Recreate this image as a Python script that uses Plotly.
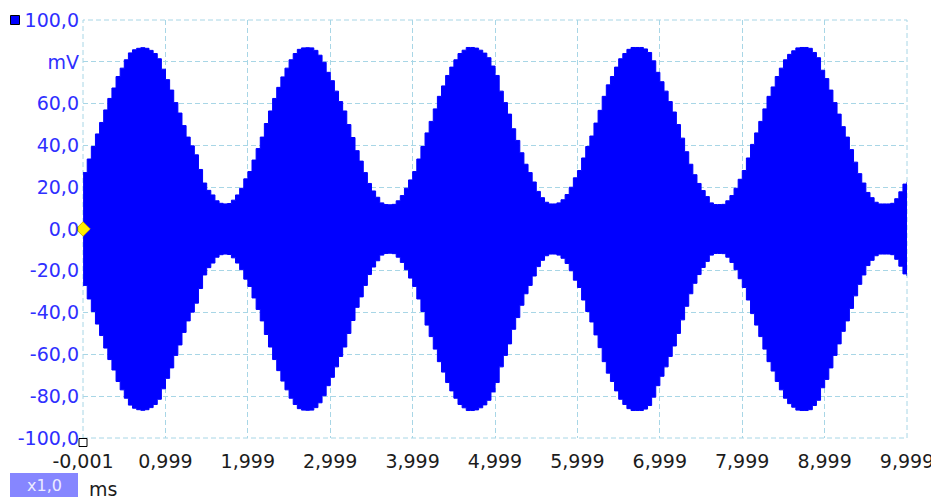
import plotly.graph_objects as go

# Sample times (ms) of the envelope readout, 0.05 ms per step, last sample at the screen edge
time_ms = [round(i * 0.05, 2) for i in range(200)] + [9.999]

# Peak amplitude (mV) of the AM waveform per 0.05 ms column
peak_mv = [
    27.0, 33.5, 39.5, 45.5, 51.0, 57.0, 62.5, 67.5, 73.0, 77.0,
    81.0, 84.3, 85.8, 86.5, 86.8, 86.5, 85.5, 84.0, 81.5, 76.5,
    71.5, 66.5, 60.5, 55.5, 49.5, 44.0, 39.8, 35.5, 28.5, 22.0,
    18.5, 16.3, 13.5, 12.3, 12.0, 12.2, 13.8, 16.3, 19.5, 24.0,
    27.5, 33.0, 38.5, 44.0, 50.5, 56.5, 62.5, 67.8, 72.8, 77.0,
    81.0, 84.0, 86.0, 86.7, 86.8, 86.7, 85.5, 83.2, 79.8, 75.0,
    71.0, 66.0, 61.0, 56.5, 50.0, 43.8, 37.5, 32.5, 27.0, 21.8,
    18.2, 15.2, 12.5, 11.7, 11.6, 11.8, 13.5, 16.0, 19.5, 23.5,
    27.5, 33.5, 39.5, 46.0, 51.5, 57.5, 63.5, 68.5, 73.5, 77.5,
    81.0, 84.0, 85.6, 86.9, 86.9, 86.6, 85.6, 84.2, 82.0, 78.0,
    73.5, 66.0, 60.5, 55.0, 48.0, 42.4, 36.5, 31.0, 27.0, 22.5,
    18.0, 15.0, 12.8, 12.0, 12.0, 12.5, 14.0, 16.5, 20.0, 24.5,
    28.0, 34.0, 39.5, 44.5, 50.7, 56.8, 63.5, 69.0, 73.0, 77.5,
    81.5, 84.0, 86.0, 86.9, 86.9, 86.9, 86.2, 84.5, 80.5, 75.0,
    70.5, 66.0, 61.0, 56.0, 50.0, 43.5, 37.0, 31.0, 26.0, 21.8,
    18.4, 15.5, 12.5, 11.7, 11.7, 11.8, 13.5, 16.0, 19.5, 23.8,
    28.0, 34.0, 40.5, 46.0, 51.5, 57.5, 63.5, 68.0, 73.0, 77.0,
    81.0, 83.6, 85.3, 86.7, 86.9, 86.9, 86.5, 84.5, 82.0, 76.0,
    72.0, 66.5, 60.5, 55.0, 49.0, 44.0, 38.0, 32.0, 26.5, 22.0,
    17.5, 15.0, 12.8, 12.0, 12.0, 12.0, 12.3, 14.5, 17.8, 21.5,
    22.5,
]

x_ticks = [-0.001, 0.999, 1.999, 2.999, 3.999, 4.999, 5.999, 6.999, 7.999, 8.999, 9.999]
x_tick_text = ["-0,001", "0,999", "1,999", "2,999", "3,999", "4,999",
               "5,999", "6,999", "7,999", "8,999", "9,999"]
y_ticks = [-100, -80, -60, -40, -20, 0, 20, 40, 60, 80, 100]
y_tick_text = ["-100,0", "-80,0", "-60,0", "-40,0", "-20,0", "0,0",
               "20,0", "40,0", "60,0", "mV", "100,0"]

trigger_time = [-0.001]
trigger_level = [0.0]

FONT = "DejaVu Sans"
TRACE_BLUE = "#0000ff"
GRID = "#a8d6e6"
GRID_DASH = "5px,3px"

W, H = 931, 499
ML, MR, MT, MB = 83, 24, 20, 61
PW, PH = W - ML - MR, H - MT - MB


def px(xp):
    return (xp - ML) / PW


def py(yp):
    return (MT + PH - yp) / PH


fig = go.Figure()
fig.add_trace(go.Scatter(
    x=time_ms, y=peak_mv, mode="lines", line=dict(color=TRACE_BLUE, width=1, shape="hv"),
    hoverinfo="skip", showlegend=False,
))
fig.add_trace(go.Scatter(
    x=time_ms, y=[-v for v in peak_mv], mode="lines",
    line=dict(color=TRACE_BLUE, width=1, shape="hv"),
    fill="tonexty", fillcolor=TRACE_BLUE, hoverinfo="skip", showlegend=False,
))
fig.add_trace(go.Scatter(
    x=trigger_time, y=trigger_level, mode="markers", cliponaxis=False,
    marker=dict(symbol="diamond", size=11, color="#ffee00", line=dict(color="#d8b400", width=1)),
    hoverinfo="skip", showlegend=False,
))

fig.update_layout(
    template="none",
    width=W, height=H,
    margin=dict(l=ML, r=MR, t=MT, b=MB, autoexpand=False),
    paper_bgcolor="white", plot_bgcolor="white",
    font=dict(family=FONT, size=19),
    showlegend=False,
)
fig.update_xaxes(
    range=[-0.0011, 9.9991], tickmode="array", tickvals=x_ticks, ticktext=x_tick_text,
    showgrid=True, gridcolor=GRID, gridwidth=1, griddash=GRID_DASH,
    zeroline=False, showline=False, ticks="", automargin=False, ticklabelstandoff=10,
    ticklabeloverflow="allow",
    tickfont=dict(family=FONT, size=19, color="#1c1c1c"),
)
fig.update_yaxes(
    range=[-100.05, 100.05], tickmode="array", tickvals=y_ticks, ticktext=y_tick_text,
    showgrid=True, gridcolor=GRID, gridwidth=1, griddash=GRID_DASH,
    zeroline=False, showline=False, ticks="", automargin=False, ticklabelstandoff=3,
    ticklabeloverflow="allow",
    tickfont=dict(family=FONT, size=19, color="#2f2fff"),
)

# Dashed frame around the graticule
fig.add_shape(type="rect", xref="paper", yref="paper", x0=0, x1=1, y0=0, y1=1,
              layer="below", line=dict(color=GRID, width=1, dash=GRID_DASH))

# Channel colour swatch, zero-time marker and the zoom badge
fig.add_shape(type="rect", xref="paper", yref="paper",
              x0=px(10.5), x1=px(19.5), y0=py(24.5), y1=py(15.5),
              fillcolor=TRACE_BLUE, line=dict(color="black", width=1))
fig.add_shape(type="rect", xref="paper", yref="paper",
              x0=px(79), x1=px(87), y0=py(446.5), y1=py(438.5),
              fillcolor="white", line=dict(color="black", width=1))
fig.add_shape(type="rect", xref="paper", yref="paper",
              x0=px(10), x1=px(78), y0=py(497), y1=py(473),
              fillcolor="#8686ff", line=dict(width=0))
fig.add_annotation(xref="paper", yref="paper", x=px(44), y=py(485), text="x1,0",
                   showarrow=False, xanchor="center", yanchor="middle",
                   font=dict(family=FONT, size=16, color="#ececff"))
fig.add_annotation(xref="paper", yref="paper", x=px(87), y=py(489), text="ms",
                   showarrow=False, xanchor="left", yanchor="middle",
                   font=dict(family=FONT, size=19, color="#1c1c1c"))

fig.write_html("out.html")
